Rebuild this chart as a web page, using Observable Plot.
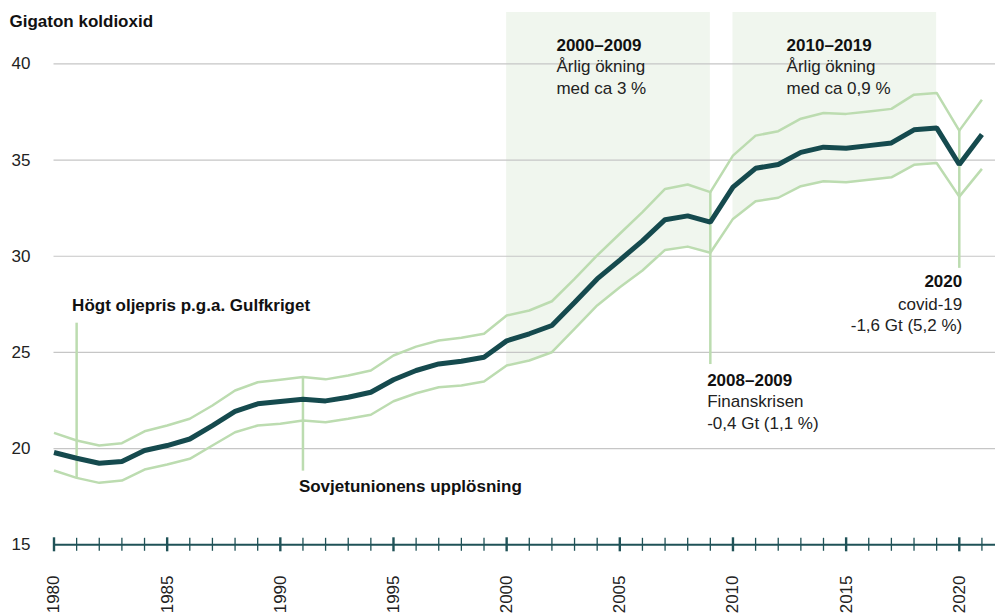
<!DOCTYPE html>
<html><head><meta charset="utf-8">
<script src="https://cdn.jsdelivr.net/npm/d3@7"></script>
<script src="https://cdn.jsdelivr.net/npm/@observablehq/plot@0.6"></script>
<style>html,body{margin:0;padding:0;background:#fff}</style>
</head><body><div id="chart"></div>
<script>
const years = [1980,1981,1982,1983,1984,1985,1986,1987,1988,1989,
  1990,1991,1992,1993,1994,1995,1996,1997,1998,1999,
  2000,2001,2002,2003,2004,2005,2006,2007,2008,2009,
  2010,2011,2012,2013,2014,2015,2016,2017,2018,2019,2020,2021];
const emissions = [19.8,19.5,19.24,19.33,19.9,20.16,20.5,21.2,21.93,22.33,
  22.45,22.57,22.48,22.67,22.93,23.58,24.06,24.4,24.54,24.75,
  25.6,25.97,26.4,27.6,28.82,29.8,30.8,31.9,32.1,31.77,
  33.59,34.57,34.77,35.4,35.67,35.61,35.75,35.89,36.57,36.67,34.77,36.33];
const upper = [20.82,20.42,20.16,20.28,20.9,21.2,21.55,22.24,23.02,23.45,
  23.58,23.72,23.6,23.8,24.06,24.84,25.3,25.62,25.76,25.97,
  26.92,27.18,27.66,28.82,30.04,31.17,32.29,33.5,33.73,33.33,
  35.23,36.27,36.5,37.15,37.45,37.4,37.52,37.66,38.4,38.49,36.53,38.14];
const lower = [18.86,18.48,18.22,18.34,18.91,19.17,19.47,20.16,20.85,21.2,
  21.29,21.46,21.37,21.55,21.76,22.46,22.88,23.19,23.28,23.49,
  24.32,24.58,25.01,26.23,27.44,28.39,29.26,30.33,30.5,30.18,
  31.94,32.86,33.04,33.64,33.9,33.85,33.97,34.1,34.75,34.85,33.1,34.54];

const yTicks = [15,20,25,30,35,40];
const gridValues = [20,25,30,35,40];
const xTickLabels = [1980,1985,1990,1995,2000,2005,2010,2015,2020];
const periodStart = [2000, 2010];
const periodEnd = [2009, 2019];
const shadeTop = 42.67;

// annotation leader lines
const leaderYear = [1981, 1991, 2009, 2020];
const leaderFrom = [18.48, 18.83, 24.37, 29.37];
const leaderTo = [26.52, 23.72, 33.33, 36.53];

// bold annotation titles (left-aligned)
const titleText = ["2000–2009", "2010–2019", "2008–2009", "Högt oljepris p.g.a. Gulfkriget", "Sovjetunionens upplösning"];
const titleX = [2002.2, 2012.37, 2008.86, 1980.8, 1990.82];
const titleY = [40.69, 40.69, 23.28, 27.14, 17.73];
// regular annotation bodies (left-aligned)
const bodyText = ["Årlig ökning\nmed ca 3 %", "Årlig ökning\nmed ca 0,9 %", "Finanskrisen\n-0,4 Gt (1,1 %)"];
const bodyX = [2002.2, 2012.37, 2008.86];
const bodyY = [38.44, 38.44, 21.03];
// right-aligned note
const covidTitle = ["2020"];
const covidBody = ["covid-19\n-1,6 Gt (5,2 %)"];
const covidX = 2020.13;
const covidTitleY = 28.39;
const covidBodyY = 26.09;

const data = years.map((y, i) => ({year: y, mid: emissions[i], hi: upper[i], lo: lower[i]}));
const leaders = leaderYear.map((y, i) => ({x: y, y1: leaderFrom[i], y2: leaderTo[i]}));
const titles = titleText.map((t, i) => ({t, x: titleX[i], y: titleY[i]}));
const bodies = bodyText.map((t, i) => ({t, x: bodyX[i], y: bodyY[i]}));

const light = "#bcdcb0";
const dark = "#154a4e";
const axisCol = "#1f5257";

const chart = Plot.plot({
  width: 995, height: 615,
  marginLeft: 53.5, marginRight: 0, marginTop: 12, marginBottom: 70.7,
  x: {domain: [1980, 2021.6]},
  y: {domain: [15, shadeTop]},
  style: {fontFamily: "'Liberation Sans', Arial, sans-serif", fontSize: "17px", color: "#222", background: "#fff", overflow: "visible"},
  marks: [
    ...periodStart.map((a, k) => Plot.areaY(data.filter(d => d.year >= a && d.year <= periodEnd[k]),
      {x: "year", y1: "lo", y2: shadeTop, fill: "#f0f6ee"})),
    Plot.ruleY(gridValues, {stroke: "#c6c6c6", strokeWidth: 1.2}),
    Plot.axisY({ticks: yTicks, tickSize: 0, tickPadding: 23.5, tickFormat: d => String(d), fontSize: 17, fill: "#222"}),
    Plot.ruleX(leaders, {x: "x", y1: "y1", y2: "y2", stroke: light, strokeWidth: 2.5}),
    Plot.line(data, {x: "year", y: "hi", stroke: light, strokeWidth: 2.5, strokeLinecap: "butt"}),
    Plot.line(data, {x: "year", y: "lo", stroke: light, strokeWidth: 2.5, strokeLinecap: "butt"}),
    Plot.line(data, {x: "year", y: "mid", stroke: dark, strokeWidth: 5, strokeLinecap: "butt", strokeLinejoin: "miter"}),
    Plot.ruleY([15], {stroke: axisCol, strokeWidth: 2}),
    Plot.ruleX(years.filter(y => y % 5 !== 0), {x: d => d, y1: 15, y2: 15, insetTop: -6.5, insetBottom: -6.5, stroke: axisCol, strokeWidth: 1.3}),
    Plot.ruleX(years.filter(y => y % 5 === 0), {x: d => d, y1: 15, y2: 15, insetTop: -7, insetBottom: -7, stroke: axisCol, strokeWidth: 2.4}),
    Plot.axisX({ticks: xTickLabels, tickSize: 0, tickPadding: 30.7, tickRotate: -90, tickFormat: d => String(d), fontSize: 17, fill: "#222", label: null}),
    Plot.text(["Gigaton koldioxid"], {frameAnchor: "top-left", dx: -44.5, dy: 14, lineAnchor: "bottom", textAnchor: "start", fontWeight: "bold", fontSize: 17, fill: "#111"}),
    Plot.text(titles, {x: "x", y: "y", text: "t", textAnchor: "start", lineAnchor: "bottom", fontWeight: "bold", fontSize: 17, fill: "#111"}),
    Plot.text(bodies, {x: "x", y: "y", text: "t", textAnchor: "start", lineAnchor: "bottom", fontSize: 17, lineHeight: 1.28, fill: "#222"}),
    Plot.text(covidTitle, {x: covidX, y: covidTitleY, text: d => d, textAnchor: "end", lineAnchor: "bottom", fontWeight: "bold", fontSize: 17, fill: "#111"}),
    Plot.text(covidBody, {x: covidX, y: covidBodyY, text: d => d, textAnchor: "end", lineAnchor: "bottom", fontSize: 17, lineHeight: 1.28, fill: "#222"})
  ]
});
document.getElementById("chart").appendChild(chart);
</script>
</body></html>
